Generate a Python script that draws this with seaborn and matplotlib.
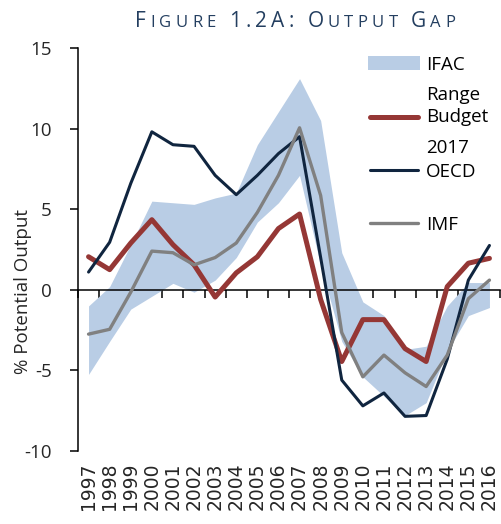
import numpy as np
import pandas as pd
import matplotlib
matplotlib.use("Agg")
import matplotlib.pyplot as plt
import seaborn as sns
from matplotlib.lines import Line2D
from matplotlib.patches import Rectangle

# values (% of potential output)
years = list(range(1997, 2017))
ifac_low = [-5.25, -3.2, -1.2, -0.4, 0.4, -0.15, 0.6, 2.0, 4.2, 5.4,
            7.1, 1.5, -3.2, -5.4, -6.6, -7.8, -7.0, -3.8, -1.6, -1.1]
ifac_high = [-1.0, 0.2, 2.8, 5.5, 5.4, 5.3, 5.7, 6.0, 9.0, 11.05,
             13.1, 10.5, 2.3, -0.75, -1.6, -3.7, -3.5, -1.0, 0.45, 0.45]
budget_2017 = [2.05, 1.25, 2.9, 4.35, 2.8, 1.55, -0.45, 1.05, 2.05, 3.8,
               4.7, -0.6, -4.45, -1.85, -1.85, -3.65, -4.45, 0.2, 1.65, 1.95]
oecd = [1.1, 2.95, 6.6, 9.8, 9.0, 8.9, 7.1, 5.9, 7.1, 8.45,
        9.5, 2.0, -5.6, -7.2, -6.4, -7.85, -7.8, -4.3, 0.6, 2.75]
imf = [-2.75, -2.45, -0.15, 2.4, 2.3, 1.55, 2.0, 2.9, 4.8, 7.1,
       10.05, 5.85, -2.65, -5.4, -4.05, -5.15, -6.0, -4.05, -0.55, 0.6]
series_names = ["Budget 2017", "OECD", "IMF"]

BAND = "#B9CDE5"
COLORS = {"Budget 2017": "#953735", "OECD": "#10253F", "IMF": "#808080"}
WIDTHS = {"Budget 2017": 3.6, "OECD": 2.2, "IMF": 2.4}
TITLE_COLOR = "#243F60"

sns.set_style("ticks")
plt.rcParams["font.family"] = ["Open Sans", "DejaVu Sans"]
plt.rcParams["text.color"] = "black"
plt.rcParams["axes.unicode_minus"] = False

W, H = 502, 524
fig = plt.figure(figsize=(W / 100, H / 100), dpi=100)
ax = fig.add_axes([78 / W, 1 - 451 / H, 422 / W, 403 / H])

pos = np.arange(len(years))
ax.fill_between(pos, ifac_low, ifac_high, color=BAND, lw=0, zorder=1)

df = pd.DataFrame({
    "pos": np.tile(pos, 3),
    "value": budget_2017 + oecd + imf,
    "series": np.repeat(series_names, len(years)),
})
sns.lineplot(data=df, x="pos", y="value", hue="series", size="series",
             hue_order=series_names, size_order=series_names,
             palette=COLORS, sizes=WIDTHS, legend=False, ax=ax, zorder=3)

ax.set_xlim(-0.5, len(years) - 0.5)
ax.set_ylim(-10, 15)
ax.set_yticks([-10, -5, 0, 5, 10, 15])
ax.set_xlabel("")
ax.spines[["top", "right"]].set_visible(False)
ax.spines["bottom"].set_position(("data", 0))
for s in ["left", "bottom"]:
    ax.spines[s].set_linewidth(1.1)
    ax.spines[s].set_color("black")
ax.set_xticks(np.arange(-0.5, len(years), 1))
ax.set_xticklabels([])
ax.tick_params(axis="x", direction="out", length=5.8, width=1.1, color="black")
ax.tick_params(axis="y", direction="out", length=5.8, width=1.1, color="black",
               pad=13, labelsize=13.5)

sec = ax.secondary_xaxis(0)
sec.set_xticks(pos, labels=[str(y) for y in years])
sec.tick_params(length=0, pad=8)
sec.spines["bottom"].set_visible(False)
for lbl in sec.get_xticklabels():
    lbl.set_rotation(90)
    lbl.set_fontsize(13.5)
    lbl.set_family("DejaVu Sans")

ax.set_ylabel("% Potential Output", fontsize=13.5)
ax.yaxis.set_label_coords(-0.109, 0.397)


def fx(px):
    return px / W


def fy(py):
    return 1 - py / H


# legend, drawn by hand to keep the Excel-style wrapping
fig.add_artist(Rectangle((fx(368), fy(69.5)), 52 / W, 13 / H, color=BAND, lw=0))
for name, y in zip(series_names, [116.7, 170, 222.7]):
    fig.add_artist(Line2D([fx(370), fx(418)], [fy(y), fy(y)], color=COLORS[name],
                          lw=WIDTHS[name], solid_capstyle="round"))
for txt, base in [("IFAC", 70), ("Range", 100), ("Budget", 121.7),
                  ("2017", 153), ("OECD", 176.7), ("IMF", 230)]:
    fig.text(fx(426), fy(base), txt, fontsize=13.5, va="baseline", ha="left")


def small_caps(text, cx, base, big, small, width_px, color):
    r = fig.canvas.get_renderer()
    items = []
    for ch in text:
        if ch == " ":
            items.append(None)
            continue
        size = small if ch.islower() else big
        items.append(fig.text(0, 0, ch.upper(), fontsize=size, color=color,
                              va="baseline", ha="left"))
    widths = [t.get_window_extent(r).width if t is not None else 0 for t in items]
    space = big * 100 / 72 * 0.22
    track = (width_px - sum(widths) - space * items.count(None)) / (len(items) - 1)
    x = cx - width_px / 2
    for t, w in zip(items, widths):
        if t is None:
            x += space + track
            continue
        t.set_position((fx(x), fy(base)))
        x += w + track


small_caps("Figure 1.2A: Output Gap", 295, 27, 15, 12, 320, TITLE_COLOR)

fig.savefig("out.png", dpi=100)
